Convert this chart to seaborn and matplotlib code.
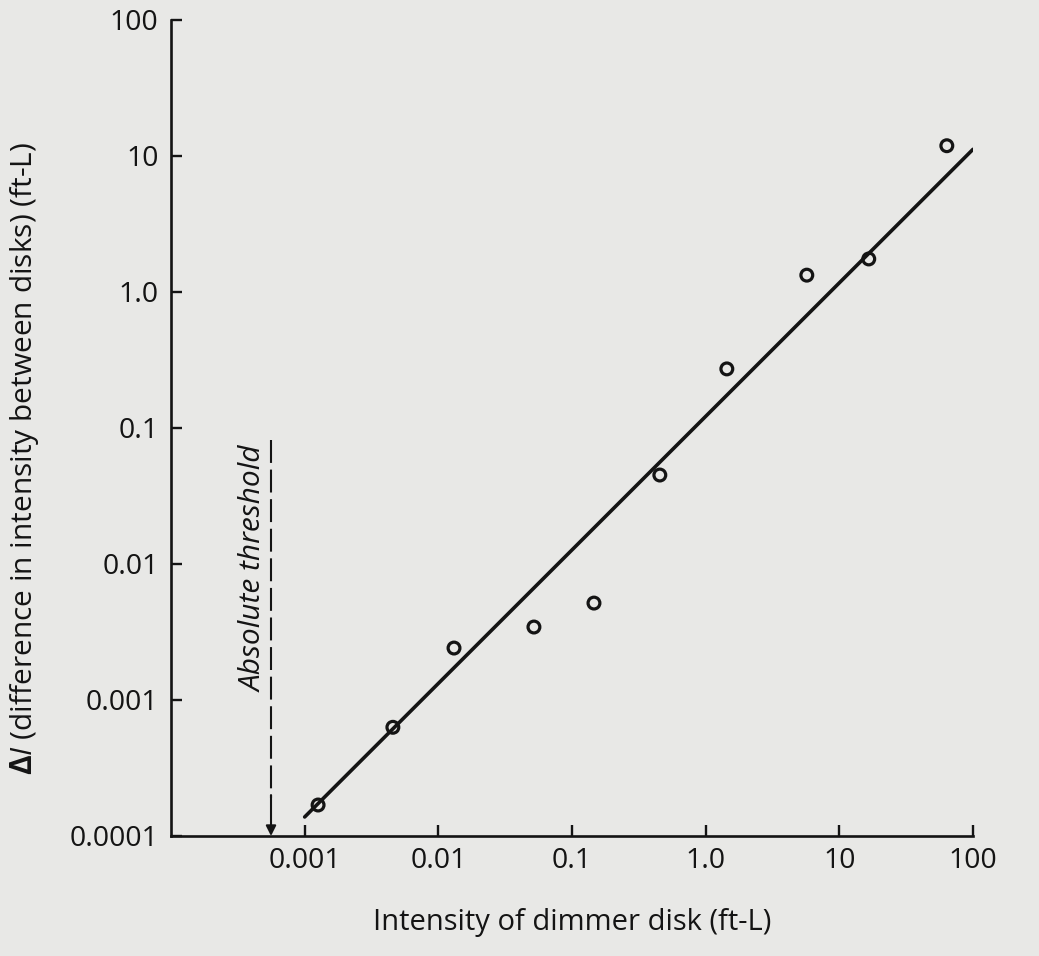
import matplotlib
matplotlib.use("Agg")
import matplotlib.pyplot as plt
import seaborn as sns
import pandas as pd

# measured points: intensity of dimmer disk vs. just-noticeable difference (ft-L)
dimmer = [0.00126, 0.00457, 0.0131, 0.0519, 0.146, 0.454, 1.44, 5.71, 16.6, 63.7]
delta_i = [0.000169, 0.00063, 0.00241, 0.00344, 0.00516, 0.0451, 0.272, 1.33, 1.75, 11.9]

# fitted straight line (log-log), endpoints
fit_x = [0.001, 100]
fit_y = [0.000138, 11.2]

# absolute threshold marker
threshold_x = 0.00056
threshold_top = 0.082

x_ticks = [0.001, 0.01, 0.1, 1.0, 10, 100]
x_labels = ["0.001", "0.01", "0.1", "1.0", "10", "100"]
y_ticks = [0.0001, 0.001, 0.01, 0.1, 1.0, 10, 100]
y_labels = ["0.0001", "0.001", "0.01", "0.1", "1.0", "10", "100"]

bg = "#e8e8e6"
ink = "#141414"

sns.set_theme(style="ticks")
plt.rcParams["font.family"] = ["Open Sans", "DejaVu Sans"]
plt.rcParams["mathtext.fontset"] = "custom"
plt.rcParams["mathtext.rm"] = "Open Sans"
plt.rcParams["mathtext.it"] = "Open Sans:italic"
plt.rcParams["mathtext.bf"] = "Open Sans:bold"

fig = plt.figure(figsize=(10.39, 9.56), dpi=100, facecolor=bg)
ax = fig.add_axes([171 / 1039, 1 - 836 / 956, (973 - 171) / 1039, (836 - 20) / 956])
ax.set_facecolor(bg)

pts = pd.DataFrame({"dimmer": dimmer, "delta": delta_i})
fit = pd.DataFrame({"x": fit_x, "y": fit_y})

sns.lineplot(data=fit, x="x", y="y", color=ink, linewidth=2.6, ax=ax)
sns.scatterplot(data=pts, x="dimmer", y="delta", marker="o", s=72,
                facecolor="none", edgecolor=ink, linewidth=2.3, ax=ax, zorder=3)

ax.set_xscale("log")
ax.set_yscale("log")
ax.set_xlim(1e-4, 100)
ax.set_ylim(1e-4, 100)

# absolute threshold: dashed line with arrow down to the axis
ax.plot([threshold_x, threshold_x], [threshold_top, 0.00019], color=ink,
        linewidth=1.5, dashes=(11, 3.2))
ax.annotate("", xy=(threshold_x, 1e-4), xytext=(threshold_x, 0.0002),
            arrowprops=dict(arrowstyle="-|>", color=ink, lw=1.5,
                            mutation_scale=15, shrinkA=0, shrinkB=0))
ax.text(0.00042, 0.0093, "Absolute threshold", rotation=90, style="italic",
        fontsize=21.5, color=ink, ha="center", va="center")

ax.set_xticks(x_ticks)
ax.set_xticklabels(x_labels)
ax.set_yticks(y_ticks)
ax.set_yticklabels(y_labels)
ax.minorticks_off()
ax.tick_params(axis="both", direction="in", length=8, width=1.7, colors=ink,
               labelsize=20.5)
ax.tick_params(axis="x", pad=8)
ax.tick_params(axis="y", pad=9)

for side in ["top", "right"]:
    ax.spines[side].set_visible(False)
for side in ["left", "bottom"]:
    ax.spines[side].set_linewidth(1.9)
    ax.spines[side].set_color(ink)

ax.set_xlabel("Intensity of dimmer disk (ft-L)", fontsize=21, color=ink,
              labelpad=24)
ax.set_ylabel(r"$\mathbf{\Delta}\mathit{I}$ (difference in intensity between disks) (ft-L)",
              fontsize=21.5, color=ink)
ax.yaxis.set_label_coords(-0.162, 0.462)

fig.savefig("out.png", dpi=100, facecolor=bg)
